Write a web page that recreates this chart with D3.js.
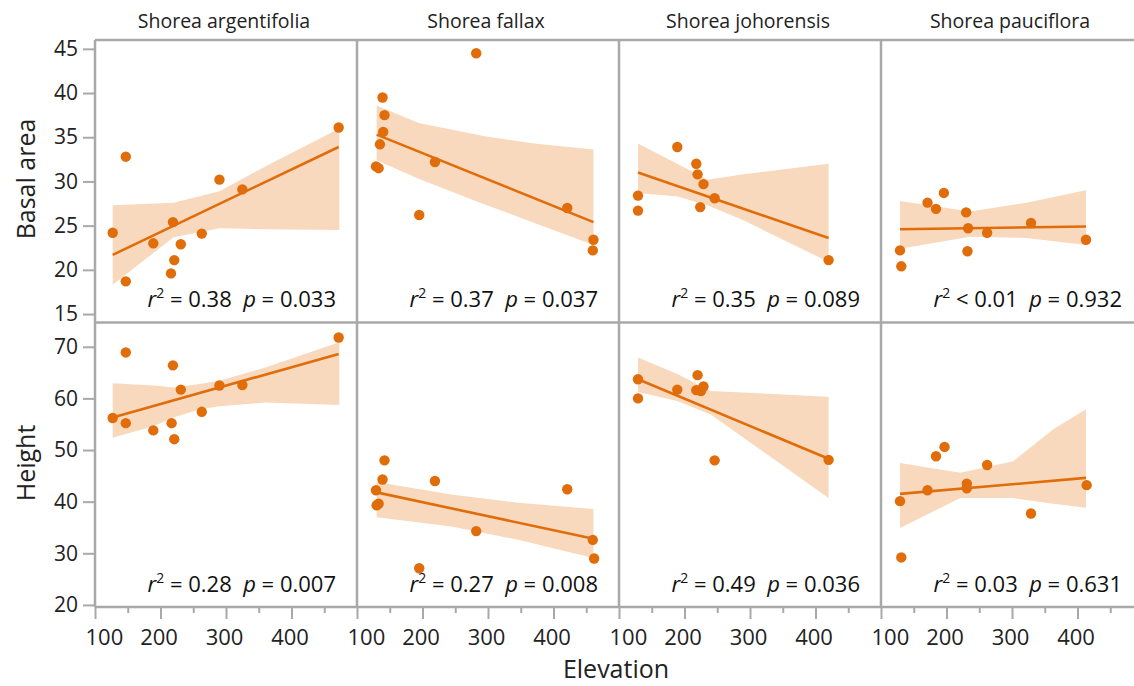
<!DOCTYPE html>
<html>
<head>
<meta charset="utf-8">
<script src="https://cdn.jsdelivr.net/npm/d3@7"></script>
<style>
  body { margin: 0; background: #fff; }
  svg text { font-family: "Open Sans", "Noto Sans", sans-serif; }
</style>
</head>
<body>
<div id="chart"></div>
<script>
// species columns and the two response rows
let species = ["Shorea argentifolia", "Shorea fallax", "Shorea johorensis", "Shorea pauciflora"];
let rowNames = ["Basal area", "Height"];

let elevTicks = [100, 200, 300, 400];
let elevMinor = [150, 250, 350, 450];
let basalTicks = [15, 20, 25, 30, 35, 40, 45];
let heightTicks = [20, 30, 40, 50, 60, 70];

// elevation, basal area
let basalPts = [
  [[127,24.2],[147,32.8],[147,18.7],[189,23.0],[216,19.6],[219,25.4],[221,21.1],[231,22.9],[263,24.1],[290,30.2],[325,29.1],[472,36.1]],
  [[282,44.5],[139,39.5],[142,37.5],[140,35.6],[135,34.2],[129,31.7],[133,31.5],[219,32.2],[195,26.2],[421,27.0],[461,23.4],[460,22.2]],
  [[129,28.4],[129,26.7],[189,33.9],[218,32.0],[220,30.8],[229,29.7],[246,28.1],[224,27.1],[420,21.1]],
  [[129,22.2],[131,20.4],[171,27.6],[184,26.9],[196,28.7],[230,26.5],[233,24.7],[232,22.1],[262,24.2],[329,25.3],[413,23.4]]
];
// fitted line ends [x0, y0, x1, y1]
let basalFit = [[127,21.7,472,33.9],[130,35.3,461,25.4],[129,31.0,420,23.6],[129,24.6,413,24.9]];
// confidence band
let basalBandX = [[127,220,290,360,473],[130,194,295,371,461],[129,189,235,290,420],[129,236,322,413]];
let basalBandLo = [[18.3,23.7,24.7,24.6,24.5],[32.4,30.3,27.4,25.3,22.8],[28.7,28.3,27.3,25.6,20.9],[22.4,23.75,23.6,22.8]];
let basalBandHi = [[27.3,27.6,28.9,31.7,36.0],[38.6,36.6,35.1,34.3,33.6],[34.3,32.0,30.2,30.8,32.0],[27.8,26.6,27.6,29.0]];
let basalStats = [["=","0.38","0.033"],["=","0.37","0.037"],["=","0.35","0.089"],["<","0.01","0.932"]];

// elevation, height
let heightPts = [
  [[127,56.2],[147,68.9],[147,55.2],[189,53.8],[219,66.4],[217,55.2],[221,52.1],[231,61.7],[263,57.4],[290,62.5],[325,62.6],[472,71.8]],
  [[142,48.0],[139,44.3],[129,42.2],[133,39.6],[130,39.3],[219,44.0],[282,34.3],[195,27.1],[421,42.4],[460,32.6],[462,29.0]],
  [[129,63.7],[129,60.0],[189,61.7],[220,64.5],[218,61.6],[225,61.4],[229,62.3],[246,48.0],[420,48.1]],
  [[129,40.1],[131,29.2],[171,42.2],[184,48.8],[197,50.6],[231,43.5],[231,42.6],[262,47.1],[329,37.7],[414,43.2]]
];
let heightFit = [[127,56.3,472,68.6],[130,41.8,461,32.8],[129,63.7,420,48.3],[129,41.5,413,44.6]];
let heightBandX = [[127,190,220,260,290,360,473],[130,244,346,461],[129,189,240,420],[129,221,302,363,413]];
let heightBandLo = [[52.4,54.65,56.3,57.9,58.5,59.2,58.7],[37.0,35.2,32.6,29.1],[61.25,59.5,56.9,40.7],[34.9,40.7,40.7,39.6,38.8]];
let heightBandHi = [[62.95,62.5,62.1,62.8,63.4,66.0,70.85],[43.8,41.4,39.8,38.6],[67.9,64.7,61.45,60.3],[47.5,45.6,47.85,54.0,57.9]];
let heightStats = [["=","0.28","0.007"],["=","0.27","0.008"],["=","0.49","0.036"],["=","0.03","0.631"]];

let orange = "#e06c0a";
let bandFill = "#f9d9bd";
let frameCol = "#a9a9a9";

let width = 1134, height = 686;
let panelLeft = 95, panelW = 262;
let rows = [
  { top: 40, bottom: 322, domain: [14.1, 46.0], ticks: basalTicks, pts: basalPts, fit: basalFit,
    bx: basalBandX, lo: basalBandLo, hi: basalBandHi, stats: basalStats },
  { top: 323, bottom: 607, domain: [19.6, 74.6], ticks: heightTicks, pts: heightPts, fit: heightFit,
    bx: heightBandX, lo: heightBandLo, hi: heightBandHi, stats: heightStats }
];

let svg = d3.select("#chart").append("svg")
  .attr("width", width).attr("height", height);

let panels = svg.append("g");
let frame = svg.append("g");

rows.forEach(function (row, ri) {
  let y = d3.scaleLinear().domain(row.domain).range([row.bottom, row.top]);

  species.forEach(function (sp, ci) {
    let x0 = panelLeft + ci * panelW;
    let x = d3.scaleLinear().domain([100, 500]).range([x0, x0 + panelW]);
    let g = panels.append("g");
    g.append("clipPath").attr("id", "clip" + ri + ci)
      .append("rect").attr("x", x0).attr("y", row.top).attr("width", panelW).attr("height", row.bottom - row.top);
    let inner = g.append("g").attr("clip-path", "url(#clip" + ri + ci + ")");

    let band = row.bx[ci].map(function (v, i) { return [v, row.lo[ci][i], row.hi[ci][i]]; });
    let area = d3.area()
      .x(function (d) { return x(d[0]); })
      .y0(function (d) { return y(d[1]); })
      .y1(function (d) { return y(d[2]); });
    inner.append("path").datum(band).attr("d", area).attr("fill", bandFill);

    let f = row.fit[ci];
    inner.append("line")
      .attr("x1", x(f[0])).attr("y1", y(f[1]))
      .attr("x2", x(f[2])).attr("y2", y(f[3]))
      .attr("stroke", orange).attr("stroke-width", 2.6);

    inner.selectAll("circle").data(row.pts[ci]).enter().append("circle")
      .attr("cx", function (d) { return x(d[0]); })
      .attr("cy", function (d) { return y(d[1]); })
      .attr("r", 5.2)
      .attr("fill", orange);

    let s = row.stats[ci];
    let t = g.append("text")
      .attr("x", x0 + panelW - 21).attr("y", row.bottom - 15)
      .attr("text-anchor", "end").attr("font-size", 22).attr("fill", "#111");
    t.append("tspan").attr("font-style", "italic").text("r");
    t.append("tspan").attr("font-size", 14).attr("dy", -9).text("2");
    t.append("tspan").attr("dy", 9).text(" " + s[0] + " " + s[1] + "\u00a0\u00a0");
    t.append("tspan").attr("font-style", "italic").text("p");
    t.append("tspan").text(" = " + s[2]);

    if (ri === 0) {
      svg.append("text")
        .attr("x", x0 + panelW / 2 - 2).attr("y", 28)
        .attr("text-anchor", "middle").attr("font-size", 19.5).attr("fill", "#222")
        .text(sp);
    }

    if (ri === 1) {
      let ax = frame.append("g").attr("transform", "translate(0," + row.bottom + ")")
        .call(d3.axisBottom(x).tickValues(elevTicks).tickSize(12).tickFormat(d3.format("d")));
      ax.select(".domain").remove();
      ax.selectAll(".tick line").attr("stroke", frameCol).attr("stroke-width", 2);
      ax.selectAll(".tick text")
        .attr("font-size", 22).attr("fill", "#222").attr("dy", 0).attr("y", 38)
        .attr("font-family", "\"Open Sans\", sans-serif")
        .attr("text-anchor", function (d) { return d === 100 ? "start" : "middle"; })
        .attr("x", function (d) { return d === 100 ? -10 : -2; });
      let mn = frame.append("g").attr("transform", "translate(0," + row.bottom + ")")
        .call(d3.axisBottom(x).tickValues(elevMinor).tickSize(6).tickFormat(""));
      mn.select(".domain").remove();
      mn.selectAll(".tick line").attr("stroke", frameCol).attr("stroke-width", 2);
    }
  });

  let ya = frame.append("g").attr("transform", "translate(" + panelLeft + ",0)")
    .call(d3.axisLeft(y).tickValues(row.ticks).tickSize(12));
  ya.select(".domain").remove();
  ya.selectAll(".tick line").attr("stroke", frameCol).attr("stroke-width", 2);
  ya.selectAll(".tick text").attr("font-size", 21).attr("fill", "#222").attr("x", -17)
    .attr("font-family", "\"Open Sans\", sans-serif");

  svg.append("text")
    .attr("transform", "translate(35," + ((row.top + row.bottom) / 2 - 2) + ") rotate(-90)")
    .attr("text-anchor", "middle").attr("font-size", 25).attr("fill", "#222")
    .text(rowNames[ri]);
});

// panel frame lines
let right = panelLeft + 4 * panelW;
let hLines = [40, 322.5, 607];
hLines.forEach(function (yy) {
  frame.append("line").attr("x1", panelLeft).attr("x2", right).attr("y1", yy).attr("y2", yy)
    .attr("stroke", frameCol).attr("stroke-width", 2.5);
});
for (let i = 0; i <= 4; i++) {
  let xx = panelLeft + i * panelW;
  frame.append("line").attr("x1", xx).attr("x2", xx).attr("y1", 40).attr("y2", 607)
    .attr("stroke", frameCol).attr("stroke-width", 2.5);
}

svg.append("text")
  .attr("x", 616).attr("y", 678)
  .attr("text-anchor", "middle").attr("font-size", 25).attr("fill", "#222")
  .text("Elevation");
</script>
</body>
</html>
